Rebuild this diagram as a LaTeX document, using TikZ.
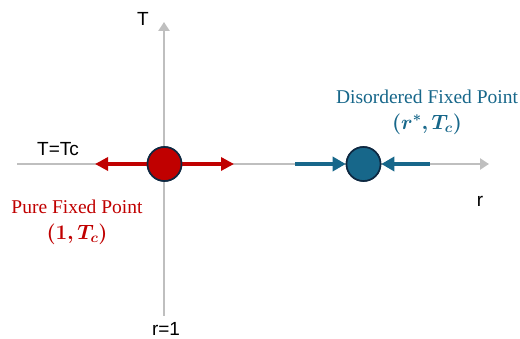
\documentclass[tikz,border=0pt]{standalone}
\usepackage{amsmath,bm}
\usepackage{fontspec}
\setmainfont{Liberation Serif}
\newfontfamily\lab{Liberation Sans}
\usetikzlibrary{arrows.meta}
\definecolor{axgray}{HTML}{BFBFBF}
\definecolor{fpred}{HTML}{C00000}
\definecolor{fpblue}{HTML}{17678A}
\definecolor{navy}{HTML}{0E2841}
\begin{document}
\begin{tikzpicture}[x=1pt,y=-1pt,
  axis/.style={draw=axgray,line width=2.7pt,-{Triangle[length=9pt,width=11pt]}},
  fp/.style={circle,draw=navy,line width=1.6pt,minimum size=34pt,inner sep=0pt},
  redarr/.style={draw=fpred,line width=4pt,-{Triangle[length=13pt,width=13pt]}},
  bluearr/.style={draw=fpblue,line width=4.5pt,-{Triangle[length=13pt,width=14pt]}},
  lbl/.style={font=\lab\fontsize{19}{22}\selectfont,inner sep=0pt},
  fplbl/.style={align=center,font=\fontsize{19.5}{26}\selectfont,inner sep=0pt}]
\useasboundingbox (0,0) rectangle (520,339);
\coordinate (hl) at (17,164);
\coordinate (hr) at (489,164);
\coordinate (vb) at (164,316);
\coordinate (vt) at (164,22);
\draw[axis] (hl) -- (hr);
\draw[axis] (vb) -- (vt);
\node[fp,fill=fpred] (pure) at (164.5,164) {};
\node[fp,fill=fpblue] (dis) at (363.5,164) {};
\coordinate (rl) at (95,164);
\coordinate (rr) at (234,164);
\coordinate (bl) at (295,164);
\coordinate (br) at (430,164);
\draw[redarr] (pure.center) -- (rl);
\draw[redarr] (pure.center) -- (rr);
\draw[bluearr] (bl) -- (dis.west);
\draw[bluearr] (br) -- (dis.east);
\node[fp,fill=fpred] at (pure) {};
\node[fp,fill=fpblue] at (dis) {};
\node[lbl] (tlab) at (143,19) {T};
\node[lbl] (tc) at (58,149) {T=Tc};
\node[lbl] (rlab) at (480,201) {r};
\node[lbl] (r1) at (166,329) {r=1};
\node[fplbl,text=fpred] (pl) at (77,222)
  {Pure Fixed Point\\ $\bm{(1,T_c)}$};
\node[fplbl,text=fpblue] (dl) at (427,112)
  {Disordered Fixed Point\\ $\bm{(r^{*},T_c)}$};
\end{tikzpicture}
\end{document}
